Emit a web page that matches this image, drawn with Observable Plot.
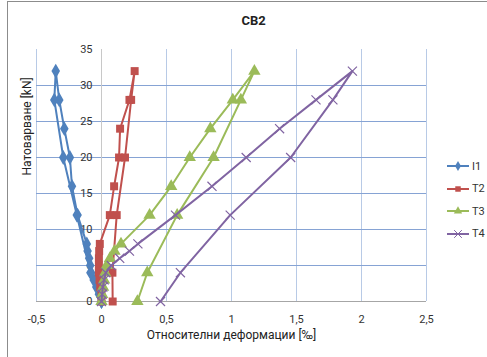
<!DOCTYPE html>
<html>
<head>
<meta charset="utf-8">
<script src="https://cdn.jsdelivr.net/npm/d3@7"></script>
<script src="https://cdn.jsdelivr.net/npm/@observablehq/plot@0.6"></script>
<style>
  html, body { margin: 0; padding: 0; background: #fff; }
  #chart { position: relative; width: 487px; height: 357px; overflow: hidden;
           font-family: "Liberation Sans Narrow", "Roboto", sans-serif; }
  #chart svg.plot { position: absolute; left: 0; top: 0; }
  #border { position: absolute; left: 7px; top: 1px; width: 500px; height: 400px;
            border: 1px solid #8c8c8c; box-sizing: border-box; }
  #legend { position: absolute; left: 446px; top: 155px; font-size: 11px; color: #333; }
  #legend .item { display: flex; align-items: center; height: 22.5px; }
  #legend svg { margin-right: 2px; }
</style>
</head>
<body>
<div id="chart"><div id="border"></div><div id="legend"></div></div>
<script>
// Load steps of each cycle: loading up to 32 kN, then unloading
const loads = [0, 1, 2, 3, 4, 5, 6, 7, 8, 12, 16, 20, 24, 28, 32, 28, 20, 12, 4, 0];

// Relative strain [‰] for each gauge at the load steps above
const I1 = [0, -0.02, -0.04, -0.06, -0.08, -0.087, -0.095, -0.107, -0.113, -0.184, -0.227, -0.243, -0.286, -0.325, -0.352, -0.363, -0.294, -0.19, -0.085, 0];
const T2 = [0, 0, -0.01, -0.015, -0.02, -0.02, -0.02, -0.018, -0.013, 0.064, 0.097, 0.135, 0.143, 0.215, 0.255, 0.228, 0.181, 0.117, 0.084, 0.086];
const T3 = [0, 0.005, 0.012, 0.02, 0.028, 0.04, 0.065, 0.1, 0.15, 0.37, 0.536, 0.679, 0.837, 1.01, 1.176, 1.072, 0.862, 0.582, 0.352, 0.276];
const T4 = [0, 0.005, 0.01, 0.02, 0.033, 0.075, 0.14, 0.215, 0.28, 0.569, 0.85, 1.113, 1.37, 1.65, 1.93, 1.78, 1.455, 0.99, 0.607, 0.454];

const seriesNames = ["I1", "T2", "T3", "T4"];
const seriesValues = [I1, T2, T3, T4];
const colors = ["#4F81BD", "#C0504D", "#9BBB59", "#8064A2"];
const symbols = ["diamond", "square", "triangle", "times"];

const xTicks = [-0.5, 0, 0.5, 1, 1.5, 2, 2.5];
const yTicks = [0, 5, 10, 15, 20, 25, 30, 35];
const xGrid = [-0.5, 0.5, 1, 1.5, 2, 2.5];
const yGrid = [5, 10, 15, 20, 25, 30];

const title = "CB2";
const xTitle = "Относителни деформации [‰]";
const yTitle = "Натоварване [kN]";

const fmt = d => String(d).replace(".", ",");

const rows = seriesNames.map((name, i) =>
  loads.map((load, j) => ({series: name, load, strain: seriesValues[i][j]})));

const seriesMarks = rows.flatMap((data, i) => [
  Plot.line(data, {x: "strain", y: "load", stroke: colors[i], strokeWidth: 2}),
  Plot.dot(data, {
    x: "strain", y: "load", symbol: () => symbols[i],
    r: symbols[i] === "times" ? 4.2 : (symbols[i] === "triangle" ? 4.6 : 4.5),
    fill: symbols[i] === "times" ? "none" : colors[i],
    stroke: colors[i], strokeWidth: symbols[i] === "times" ? 1.2 : 0
  })
]);

const chart = Plot.plot({
  width: 487,
  height: 357,
  marginLeft: 36,
  marginRight: 61,
  marginTop: 49,
  marginBottom: 56,
  style: {fontFamily: "'Liberation Sans Narrow', Roboto, sans-serif", fontSize: "11px", color: "#333", background: "transparent"},
  x: {domain: [-0.5, 2.5]},
  y: {domain: [0, 35], axis: null},
  symbol: {type: "identity"},
  marks: [
    Plot.ruleX(xGrid, {y1: 0, y2: 35, stroke: "#b8cae6", strokeWidth: 1}),
    Plot.ruleY(yGrid, {x1: -0.5, x2: 2.5, stroke: "#86a3d4", strokeWidth: 1}),
    Plot.ruleX([0], {y1: 0, y2: 35, stroke: "#c8c8c8", strokeWidth: 1}),
    Plot.ruleY([0], {x1: -0.5, x2: 2.5, stroke: "#a6a6a6", strokeWidth: 1}),
    Plot.axisX(xTicks, {tickSize: 0, tickPadding: 14, tickFormat: fmt, label: null, fill: "#333"}),
    Plot.text(yTicks, {x: 0, y: d => d, dx: -9, textAnchor: "end", text: fmt, fill: "#333"}),
    ...seriesMarks,
    Plot.text([title], {frameAnchor: "top", dx: 22, dy: -34, fontWeight: "bold", fontSize: 13, fill: "#222"}),
    Plot.text([xTitle], {frameAnchor: "bottom", dy: 37, fontSize: 12, fill: "#222"}),
    Plot.text([yTitle], {frameAnchor: "left", dx: -9, rotate: -90, fontSize: 12, fill: "#222"})
  ]
});
chart.classList.add("plot");
document.getElementById("chart").appendChild(chart);

// Legend: short line with the series marker, then the name
const legend = d3.select("#legend");
seriesNames.forEach((name, i) => {
  const item = legend.append("div").attr("class", "item");
  const svg = item.append("svg").attr("width", 24).attr("height", 12);
  svg.append("line").attr("x1", 1).attr("x2", 23).attr("y1", 6).attr("y2", 6)
    .attr("stroke", colors[i]).attr("stroke-width", 2);
  const sym = {diamond: d3.symbolDiamond, square: d3.symbolSquare, triangle: d3.symbolTriangle, times: d3.symbolTimes}[symbols[i]];
  const size = symbols[i] === "times" ? 40 : 30;
  svg.append("path").attr("d", d3.symbol(sym, size)())
    .attr("transform", "translate(12,6)")
    .attr("fill", symbols[i] === "times" ? "none" : colors[i])
    .attr("stroke", colors[i]).attr("stroke-width", symbols[i] === "times" ? 1 : 0);
  item.append("span").text(name);
});
</script>
</body>
</html>
